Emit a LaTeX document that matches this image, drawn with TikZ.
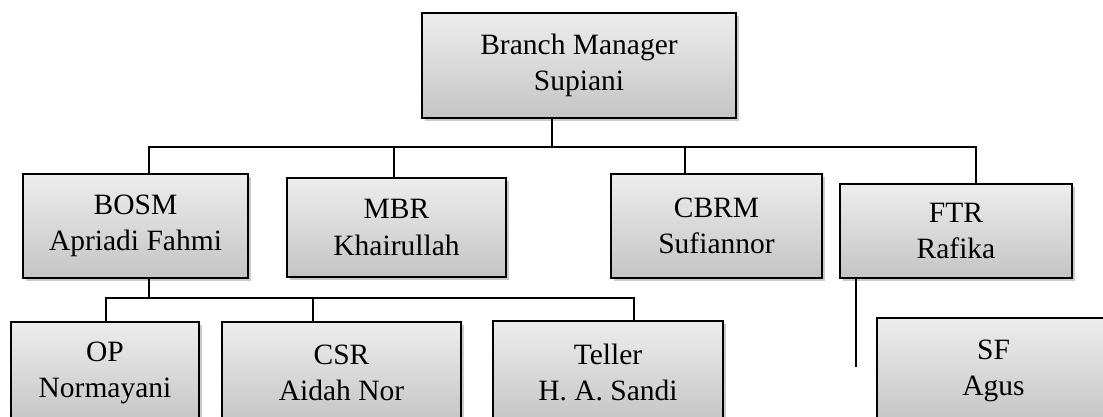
\documentclass[tikz,border=0pt]{standalone}
\usepackage{fontspec}
\setmainfont{Liberation Serif}
\usetikzlibrary{shadows}
\begin{document}
\begin{tikzpicture}[x=1pt,y=-1pt,
  box/.style={draw=black, line width=1.7pt, rectangle, outer sep=0pt, inner sep=0pt,
    top color=gray!14, bottom color=gray!46, align=center,
    font=\fontsize{29.5}{36.5}\selectfont,
    drop shadow={shadow xshift=2.5pt, shadow yshift=-3pt, opacity=0.35, fill=black!60}},
  conn/.style={draw=black, line width=1.3pt}]
\useasboundingbox (0,0) rectangle (1103,416);
\clip (0,0) rectangle (1103,416);

\node[box, minimum width=314pt, minimum height=105pt] (bm) at (579,65.5) {Branch Manager\\Supiani};
\node[box, minimum width=225pt, minimum height=104pt] (bosm) at (135.5,226) {BOSM\\Apriadi Fahmi};
\node[box, minimum width=219pt, minimum height=99pt] (mbr) at (396.5,227.5) {MBR\\Khairullah};
\node[box, minimum width=211pt, minimum height=104pt] (cbrm) at (716.5,226) {CBRM\\Sufiannor};
\node[box, minimum width=232pt, minimum height=94pt] (ftr) at (956,231) {FTR\\Rafika};
\node[box, minimum width=188pt, minimum height=102pt] (op) at (105,373) {OP\\Normayani};
\node[box, minimum width=239pt, minimum height=102pt] (csr) at (341.5,373) {CSR\\Aidah Nor};
\node[box, minimum width=230pt, minimum height=103pt] (teller) at (608,372.5) {Teller\\H. A. Sandi};
\node[box, minimum width=233pt, minimum height=106pt] (sf) at (993.5,371) {SF\\Agus};

% top level connectors
\coordinate (j0) at (552,147);
\coordinate (j1) at (149,147);
\coordinate (j2) at (394,147);
\coordinate (j3) at (685,147);
\coordinate (j4) at (976,147);
\draw[conn] (bm.south -| j0) -- (j0);
\draw[conn] (bosm.north -| j1) -- (j1) -- (j4) -- (ftr.north -| j4);
\draw[conn] (j2) -- (mbr.north -| j2);
\draw[conn] (j3) -- (cbrm.north -| j3);

% BOSM sub connectors
\coordinate (k0) at (149,298);
\coordinate (k1) at (106,298);
\coordinate (k2) at (313,298);
\coordinate (k3) at (634,298);
\draw[conn] (bosm.south -| k0) -- (k0);
\draw[conn] (op.north -| k1) -- (k1) -- (k3) -- (teller.north -| k3);
\draw[conn] (k2) -- (csr.north -| k2);

% FTR line
\coordinate (f0) at (856,278);
\coordinate (fend) at (856,367);
\draw[conn] (ftr.south -| f0) -- (fend);
\end{tikzpicture}
\end{document}
